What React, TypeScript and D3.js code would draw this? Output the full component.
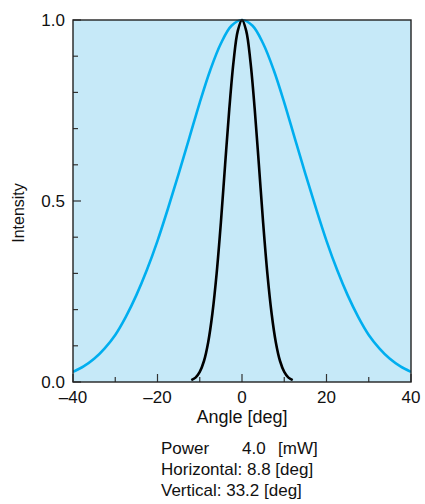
import React from 'react';
import * as d3 from 'd3';

// horizontal (narrow) beam
const hAngles = [-12, -11, -10, -9, -8, -7, -6, -5, -4, -3, -2, -1, 0, 1, 2, 3, 4, 5, 6, 7, 8, 9, 10, 11, 12];
const hIntensity = [0.005, 0.012, 0.028, 0.058, 0.11, 0.19, 0.3, 0.44, 0.6, 0.755, 0.885, 0.97, 1.0,
  0.97, 0.885, 0.755, 0.6, 0.44, 0.3, 0.19, 0.11, 0.058, 0.028, 0.012, 0.005];

// vertical (wide) beam
const vAngles = [-40, -37.5, -35, -32.5, -30, -27.5, -25, -22.5, -20, -17.5, -15, -12.5, -10, -7.5, -5, -2.5, 0,
  2.5, 5, 7.5, 10, 12.5, 15, 17.5, 20, 22.5, 25, 27.5, 30, 32.5, 35, 37.5, 40];
const vIntensity = [0.028, 0.043, 0.064, 0.093, 0.13, 0.18, 0.24, 0.31, 0.39, 0.48, 0.575, 0.673, 0.772, 0.862, 0.935, 0.984, 1.0,
  0.984, 0.935, 0.862, 0.772, 0.673, 0.575, 0.48, 0.39, 0.31, 0.24, 0.18, 0.13, 0.093, 0.064, 0.043, 0.028];

const xMajor = [-40, -20, 0, 20, 40];
const xMinor = [-30, -10, 10, 30];
const yMajor = [0, 0.5, 1.0];
const yMinor = [0.1, 0.2, 0.3, 0.4, 0.6, 0.7, 0.8, 0.9];

const powerRow = ['Power', '4.0', '[mW]'];
const infoLines = ['Horizontal: 8.8 [deg]', 'Vertical: 33.2 [deg]'];

const W = 425;
const H = 504;
const m = { left: 73, right: 14, top: 20, bottom: 122 };
const font = 'Arial, "Liberation Sans", Helvetica, sans-serif';

export default function App() {
  const x = d3.scaleLinear().domain([-40, 40]).range([m.left, W - m.right]);
  const y = d3.scaleLinear().domain([0, 1]).range([H - m.bottom, m.top]);

  const line = d3.line<[number, number]>()
    .x(d => x(d[0]))
    .y(d => y(d[1]))
    .curve(d3.curveCatmullRom.alpha(0.5));

  const vPath = line(vAngles.map((a, i) => [a, vIntensity[i]]) as [number, number][]) || '';
  const hPath = line(hAngles.map((a, i) => [a, hIntensity[i]]) as [number, number][]) || '';

  const x0 = x.range()[0], x1 = x.range()[1];
  const y0 = y.range()[0], y1 = y.range()[1];
  const fmtX = (v: number) => (v < 0 ? '\u2013' + Math.abs(v) : String(v));

  return (
    <svg width={W} height={H} style={{ position: 'absolute', left: 0, top: 0 }} fontFamily={font}>
      <defs>
        <clipPath id="plot">
          <rect x={x0} y={y1 - 2} width={x1 - x0} height={y0 - y1 + 2} />
        </clipPath>
      </defs>
      <rect x={x0} y={y1} width={x1 - x0} height={y0 - y1} fill="#c6e9f8" />

      <g clipPath="url(#plot)">
        <path d={vPath} fill="none" stroke="#00aeef" strokeWidth={2.6} />
        <path d={hPath} fill="none" stroke="#000" strokeWidth={2.6} />
      </g>

      {/* ticks, pointing inward */}
      {xMajor.map(v => (
        <line key={'xM' + v} x1={x(v)} x2={x(v)} y1={y0} y2={y0 - 8} stroke="#333" strokeWidth={1.2} />
      ))}
      {xMinor.map(v => (
        <line key={'xm' + v} x1={x(v)} x2={x(v)} y1={y0} y2={y0 - 5} stroke="#333" strokeWidth={1.2} />
      ))}
      {yMajor.map(v => (
        <line key={'yM' + v} x1={x0} x2={x0 + 8} y1={y(v)} y2={y(v)} stroke="#333" strokeWidth={1.2} />
      ))}
      {yMinor.map(v => (
        <line key={'ym' + v} x1={x0} x2={x0 + 5} y1={y(v)} y2={y(v)} stroke="#333" strokeWidth={1.2} />
      ))}

      <rect x={x0} y={y1} width={x1 - x0} height={y0 - y1} fill="none" stroke="#222" strokeWidth={1.4} />

      {xMajor.map(v => (
        <text key={'xl' + v} x={x(v)} y={y0 + 21} textAnchor="middle" fontSize={17} fill="#111">
          {fmtX(v)}
        </text>
      ))}
      {yMajor.map(v => (
        <text key={'yl' + v} x={x0 - 8} y={y(v) + 6} textAnchor="end" fontSize={17} fill="#111">
          {v.toFixed(1)}
        </text>
      ))}

      <text x={(x0 + x1) / 2} y={y0 + 41} textAnchor="middle" fontSize={18} fill="#111">Angle [deg]</text>
      <text transform={`translate(24,${(y0 + y1) / 2 + 12}) rotate(-90)`} textAnchor="middle" fontSize={16} fill="#111">Intensity</text>

      <text y={454} fontSize={17} fill="#111">
        <tspan x={161}>{powerRow[0]}</tspan>
        <tspan x={242}>{powerRow[1]}</tspan>
        <tspan x={278}>{powerRow[2]}</tspan>
      </text>
      {infoLines.map((s, i) => (
        <text key={'l' + i} x={161} y={475 + i * 21} fontSize={17} fill="#111">{s}</text>
      ))}
    </svg>
  );
}
